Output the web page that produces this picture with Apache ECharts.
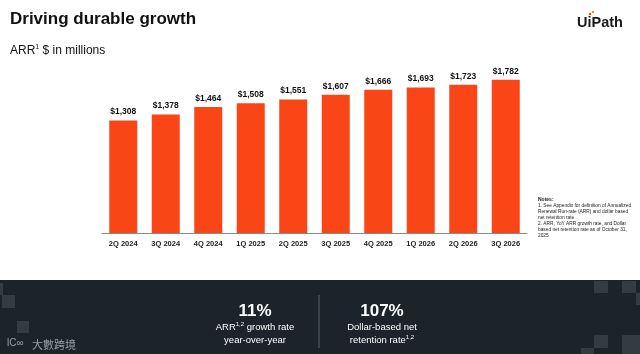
<!DOCTYPE html>
<html>
<head>
<meta charset="utf-8">
<script src="https://cdn.jsdelivr.net/npm/echarts@6/dist/echarts.min.js"></script>
<style>
  html, body { margin: 0; padding: 0; background: #fff; }
  #chart { width: 640px; height: 354px; }
</style>
</head>
<body>
<div id="chart"></div>
<script>
var quarters = ['2Q 2024', '3Q 2024', '4Q 2024', '1Q 2025', '2Q 2025',
                '3Q 2025', '4Q 2025', '1Q 2026', '2Q 2026', '3Q 2026'];
var arrValues = [1308, 1378, 1464, 1508, 1551, 1607, 1666, 1693, 1723, 1782];

var noteLines = [
    '1. See Appendix for definition of Annualized',
    'Renewal Run-rate (ARR) and dollar based',
    'net retention rate',
    '2. ARR, YoY ARR growth rate, and Dollar',
    'based net retention rate as of October 31,',
    '2025'
];

var dom = document.getElementById('chart');
var myChart = echarts.init(dom);
var font = 'Liberation Sans, Arial, sans-serif';
var darkBg = '#1c232b';
var tile = '#343b43';

function sq(x, y, w, h) {
    return { type: 'rect', shape: { x: x, y: y, width: w, height: h }, style: { fill: tile }, silent: true };
}

var option = {
    animation: false,
    backgroundColor: '#fff',
    title: [{
        text: 'Driving durable growth',
        left: 10,
        top: 11,
        padding: 0,
        textStyle: { fontFamily: font, fontSize: 17, fontWeight: 'bold', color: '#111' }
    }, {
        text: 'ARR{sup|1} $ in millions',
        left: 10,
        top: 44,
        padding: 0,
        textStyle: {
            fontFamily: font, fontSize: 12, fontWeight: 'normal', color: '#111',
            rich: { sup: { fontSize: 7, fontWeight: 'normal', verticalAlign: 'top', padding: [0, 0, 6, 0], fontFamily: font, color: '#111' } }
        }
    }],
    grid: { left: 102, right: 113, top: 61, bottom: 121 },
    xAxis: {
        type: 'category',
        data: quarters,
        axisTick: { show: false },
        axisLine: { lineStyle: { color: '#8a8a8a', width: 1 } },
        axisLabel: { fontFamily: font, fontSize: 7.5, fontWeight: 'bold', color: '#222', margin: 7 }
    },
    yAxis: {
        type: 'value',
        min: 0,
        max: 2000,
        show: false,
        splitLine: { show: false }
    },
    series: [{
        type: 'bar',
        data: arrValues,
        barWidth: 28,
        itemStyle: { color: '#fa4616' },
        label: {
            show: true,
            position: 'top',
            distance: 4,
            fontFamily: font,
            fontSize: 8.5,
            fontWeight: 'bold',
            color: '#111',
            formatter: function (p) { return '$' + p.value.toLocaleString('en-US'); }
        }
    }],
    graphic: [
        // logo
        {
            type: 'text', left: 577, top: 15,
            style: { text: 'UiPath', fontFamily: font, fontSize: 14.5, fontWeight: 'bold', fill: '#1a1a1a' }
        },
        { type: 'circle', shape: { cx: 590, cy: 14, r: 1.3 }, style: { fill: '#fa4616' } },
        { type: 'circle', shape: { cx: 593, cy: 12, r: 0.9 }, style: { fill: '#fa4616' } },
        // notes
        {
            type: 'text', left: 538, top: 197,
            style: { text: 'Notes:', fontFamily: font, fontSize: 5, fontWeight: 'bold', fill: '#222' }
        },
        {
            type: 'text', left: 538, top: 203,
            style: { text: noteLines.join('\n'), fontFamily: font, fontSize: 4.8, lineHeight: 6, fill: '#222' }
        },
        // footer band
        { type: 'rect', shape: { x: 0, y: 280, width: 640, height: 74 }, style: { fill: darkBg }, silent: true },
        sq(0, 283, 3, 12), sq(2, 295, 13, 13), sq(17, 321, 12, 12),
        sq(594, 281, 14, 12), sq(622, 281, 14, 12), sq(636, 293, 4, 12),
        sq(594, 335, 14, 13), sq(581, 348, 13, 6), sq(622, 335, 18, 19),
        { type: 'line', shape: { x1: 319, y1: 295, x2: 319, y2: 348 }, style: { stroke: '#5b636b', lineWidth: 1 } },
        {
            type: 'text', x: 255, y: 311,
            style: { text: '11%', fontFamily: font, fontSize: 17, fontWeight: 'bold', fill: '#fff', align: 'center', verticalAlign: 'middle' }
        },
        {
            type: 'text', x: 255, y: 334,
            style: {
                text: 'ARR{s|1,2} growth rate\nyear-over-year',
                fontFamily: font, fontSize: 9.5, lineHeight: 13, fill: '#fff', align: 'center', verticalAlign: 'middle',
                rich: { s: { fontSize: 6, verticalAlign: 'top', padding: [0, 0, 5, 0], fill: '#fff', fontFamily: font } }
            }
        },
        {
            type: 'text', x: 382, y: 311,
            style: { text: '107%', fontFamily: font, fontSize: 17, fontWeight: 'bold', fill: '#fff', align: 'center', verticalAlign: 'middle' }
        },
        {
            type: 'text', x: 382, y: 334,
            style: {
                text: 'Dollar-based net\nretention rate{s|1,2}',
                fontFamily: font, fontSize: 9.5, lineHeight: 13, fill: '#fff', align: 'center', verticalAlign: 'middle',
                rich: { s: { fontSize: 6, verticalAlign: 'top', padding: [0, 0, 5, 0], fill: '#fff', fontFamily: font } }
            }
        },
        // watermark
        {
            type: 'text', left: 7, top: 338,
            style: { text: 'lC\u221E', fontFamily: font, fontSize: 10, fill: '#9aa0a6' }
        },
        {
            type: 'text', left: 32, top: 339,
            style: { text: '大數跨境', fontFamily: 'Noto Sans CJK SC, sans-serif', fontSize: 11, fill: '#9aa0a6' }
        }
    ]
};

if (option && typeof option === 'object') {
    myChart.setOption(option, true);
}
</script>
</body>
</html>
